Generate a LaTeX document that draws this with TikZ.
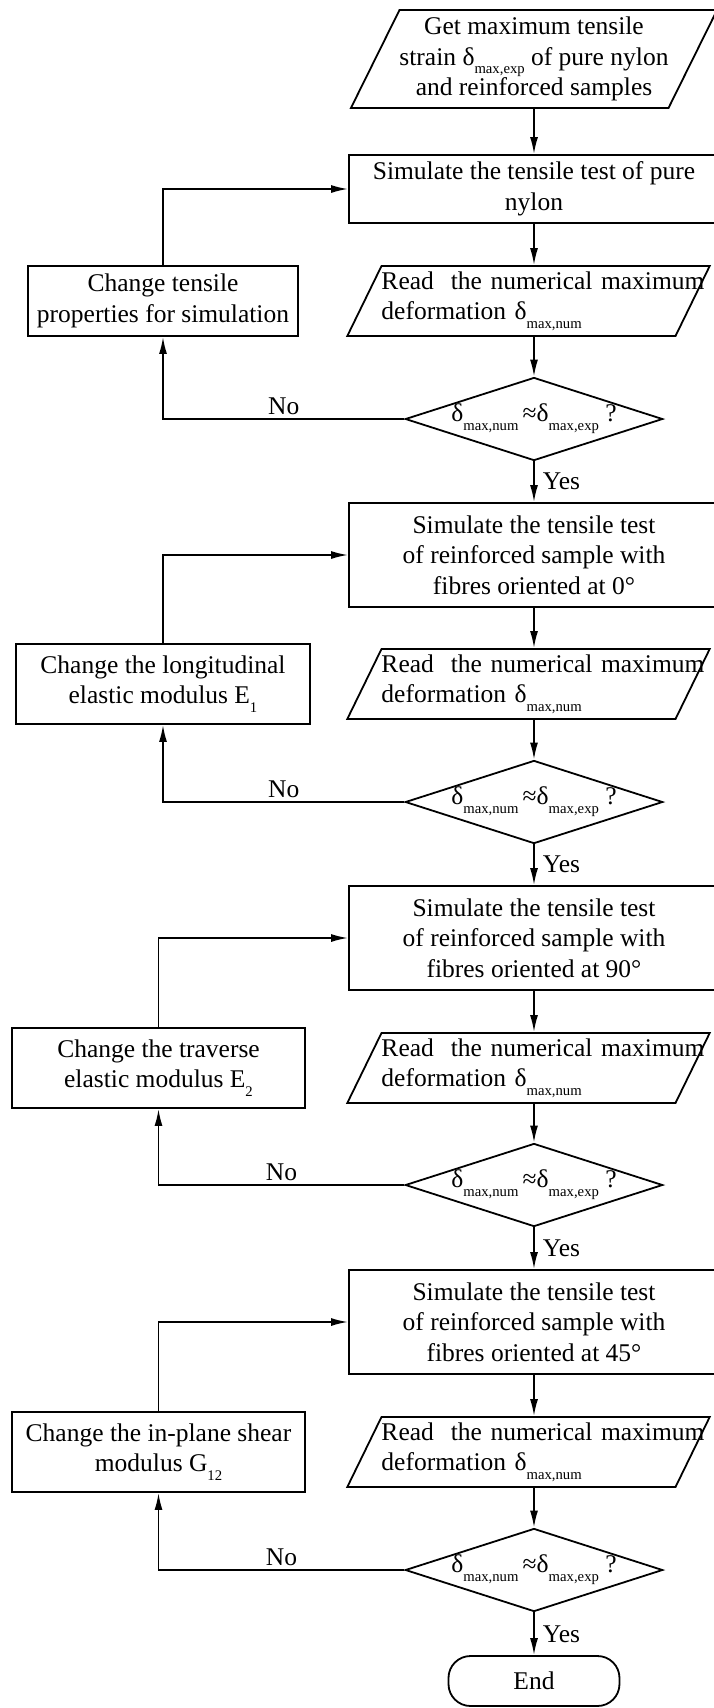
\documentclass[tikz,border=0pt]{standalone}
\usepackage{fontspec}
\setmainfont{Liberation Serif}
\usetikzlibrary{shapes.geometric}
\usetikzlibrary{arrows.meta}
\newcommand{\lowsub}[1]{\raisebox{-0.75ex}{\fontsize{14.7pt}{14.7pt}\selectfont #1}}

\begin{document}
\begin{tikzpicture}[x=1pt, y=-1pt, line width=1.8pt,
  font=\fontsize{25.5pt}{30.5pt}\selectfont]

\tikzstyle{box}=[draw=black, align=center, minimum width=370pt, inner sep=0pt]
\tikzstyle{iobox}=[draw=black, trapezium, trapezium left angle=60,
  trapezium right angle=120, trapezium stretches body, inner ysep=0pt]
\tikzstyle{readbox}=[iobox, align=left, text width=294pt, inner xsep=0pt,
  minimum height=70pt, xshift=-5.5pt]
\tikzstyle{decision}=[draw=black, diamond, aspect=3.1, inner sep=0pt,
  minimum width=256pt, minimum height=82pt]
\tikzstyle{changebox}=[draw=black, align=center, minimum height=80pt, inner sep=0pt]
\tikzstyle{endbox}=[draw=black, rounded corners=22pt, minimum width=171pt,
  minimum height=50pt]
\tikzstyle{flow}=[-{Latex[length=17pt,width=8pt]}]
\tikzstyle{answer}=[inner sep=3pt]

\useasboundingbox (0,0) rectangle (714,1708);

\matrix[matrix anchor=getstrain.center, column sep={371pt,between origins}] at (534,59) {
    & \node[iobox, align=center, inner xsep=0pt, minimum height=98pt] (getstrain)
      {Get maximum tensile\\strain δ\lowsub{max,exp} of pure nylon\\and reinforced samples}; \\[130pt,between origins]
    & \node[box, minimum height=68pt] (simnylon) {Simulate the tensile test of pure\\nylon}; \\[112pt,between origins]
    \node[changebox, minimum width=270pt, minimum height=70pt] (changenylon)
      {Change tensile\\properties for simulation}; &
    \node[readbox] (readnylon) {\mbox{Read~ the numerical maximum}\\deformation δ\lowsub{max,num}}; \\[118pt,between origins]
    & \node[decision] (checknylon) {δ\lowsub{max,num}\,≈δ\lowsub{max,exp}\ ?}; \\[136pt,between origins]
    & \node[box, minimum height=104pt] (simzero)
      {Simulate the tensile test\\of reinforced sample with\\fibres oriented at 0°}; \\[129pt,between origins]
    \node[changebox, minimum width=294pt] (changezero)
      {Change the longitudinal\\elastic modulus E\lowsub{1}}; &
    \node[readbox] (readzero) {\mbox{Read~ the numerical maximum}\\deformation δ\lowsub{max,num}}; \\[118pt,between origins]
    & \node[decision] (checkzero) {δ\lowsub{max,num}\,≈δ\lowsub{max,exp}\ ?}; \\[136pt,between origins]
    & \node[box, minimum height=104pt] (simninety)
      {Simulate the tensile test\\of reinforced sample with\\fibres oriented at 90°}; \\[130pt,between origins]
    \node[changebox, minimum width=293pt, xshift=-4.5pt] (changeninety)
      {Change the traverse\\elastic modulus E\lowsub{2}}; &
    \node[readbox] (readninety) {\mbox{Read~ the numerical maximum}\\deformation δ\lowsub{max,num}}; \\[117pt,between origins]
    & \node[decision] (checkninety) {δ\lowsub{max,num}\,≈δ\lowsub{max,exp}\ ?}; \\[137pt,between origins]
    & \node[box, minimum height=104pt] (simshear)
      {Simulate the tensile test\\of reinforced sample with\\fibres oriented at 45°}; \\[130pt,between origins]
    \node[changebox, minimum width=293pt, xshift=-4.5pt] (changeshear)
      {Change the in-plane shear\\modulus G\lowsub{12}}; &
    \node[readbox] (readshear) {\mbox{Read~ the numerical maximum}\\deformation δ\lowsub{max,num}}; \\[118pt,between origins]
    & \node[decision] (checkshear) {δ\lowsub{max,num}\,≈δ\lowsub{max,exp}\ ?}; \\[111pt,between origins]
    & \node[endbox] (finish) {End}; \\
};

\draw[flow] (getstrain) -- (simnylon);
\draw[flow] (simnylon) -- (simnylon |- readnylon.north);
\draw[flow] (readnylon.south -| checknylon) -- (checknylon);
\draw[flow] (checknylon) -| node[answer, pos=0.25, above] {No} (changenylon);
\draw[flow] (changenylon) |- (simnylon);
\draw[flow] (checknylon) -- node[answer, right=5pt] {Yes} (simzero);

\draw[flow] (simzero) -- (simzero |- readzero.north);
\draw[flow] (readzero.south -| checkzero) -- (checkzero);
\draw[flow] (checkzero) -| node[answer, pos=0.25, above] {No} (changezero);
\draw[flow] (changezero) |- (simzero);
\draw[flow] (checkzero) -- node[answer, right=5pt] {Yes} (simninety);

\draw[flow] (simninety) -- (simninety |- readninety.north);
\draw[flow] (readninety.south -| checkninety) -- (checkninety);
\draw[flow] (checkninety) -| node[answer, pos=0.25, above] {No} (changeninety);
\draw[flow] (changeninety) |- (simninety);
\draw[flow] (checkninety) -- node[answer, right=5pt] {Yes} (simshear);

\draw[flow] (simshear) -- (simshear |- readshear.north);
\draw[flow] (readshear.south -| checkshear) -- (checkshear);
\draw[flow] (checkshear) -| node[answer, pos=0.25, above] {No} (changeshear);
\draw[flow] (changeshear) |- (simshear);
\draw[flow] (checkshear) -- node[answer, right=5pt] {Yes} (finish);
\end{tikzpicture}
\end{document}
